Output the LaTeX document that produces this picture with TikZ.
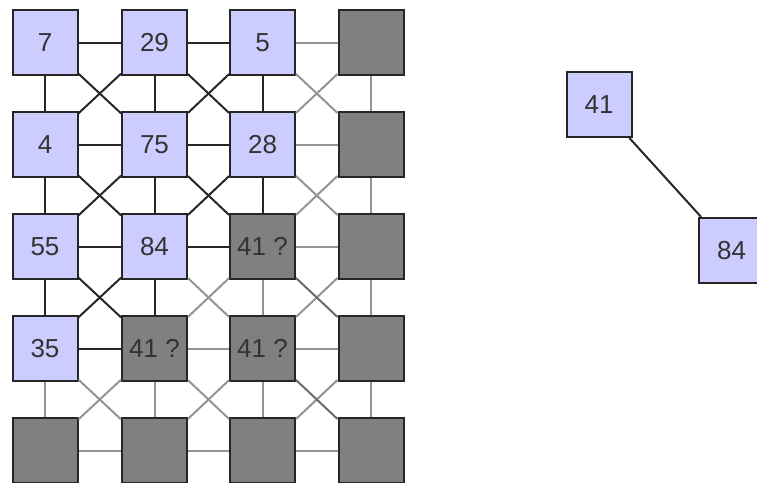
\documentclass[tikz,border=0pt]{standalone}
\usepackage{fontspec}
\setmainfont{Liberation Sans}
\usepackage{tikz}
\usetikzlibrary{positioning}
\definecolor{lavender}{HTML}{CCCCFF}
\definecolor{unknowngray}{HTML}{808080}
\tikzset{
  cell/.style={draw=black!85,line width=2pt,minimum size=65pt,inner sep=0pt,
    text=black!80,font=\fontsize{26}{30}\selectfont},
  known/.style={cell,fill=lavender},
  unknown/.style={cell,fill=unknowngray},
  link/.style={draw=black!85,line width=2pt},
  faint/.style={draw=black!42,line width=2pt},
  midlink/.style={draw=black!58,line width=2pt},
}
\begin{document}
\begin{tikzpicture}[x=1pt,y=-1pt]
  \useasboundingbox (0,0) rectangle (757,482);
  % grid of cells
  \node[known]   (n11) at (45,42.5)    {7};
  \node[known]   (n12) at (154.5,42.5) {29};
  \node[known]   (n13) at (262.5,42.5) {5};
  \node[unknown] (n14) at (371,42.5)   {};
  \node[known]   (n21) at (45,144.5)    {4};
  \node[known]   (n22) at (154.5,144.5) {75};
  \node[known]   (n23) at (262.5,144.5) {28};
  \node[unknown] (n24) at (371,144.5)   {};
  \node[known]   (n31) at (45,246.5)    {55};
  \node[known]   (n32) at (154.5,246.5) {84};
  \node[unknown] (n33) at (262.5,246.5) {41 ?};
  \node[unknown] (n34) at (371,246.5)   {};
  \node[known]   (n41) at (45,348.5)    {35};
  \node[unknown] (n42) at (154.5,348.5) {41 ?};
  \node[unknown] (n43) at (262.5,348.5) {41 ?};
  \node[unknown] (n44) at (371,348.5)   {};
  \node[unknown] (n51) at (45,450.5)    {};
  \node[unknown] (n52) at (154.5,450.5) {};
  \node[unknown] (n53) at (262.5,450.5) {};
  \node[unknown] (n54) at (371,450.5)   {};
  % the pair on the right
  \node[known] (m41) at (599,104.5)   {41};
  \node[known] (m84) at (731.5,250.5) {84};

  % edges between known cells
  \path[link]
    (n11) edge (n12) (n12) edge (n13)
    (n21) edge (n22) (n22) edge (n23)
    (n31) edge (n32) (n32) edge (n33)
    (n41) edge (n42)
    (n11) edge (n21) (n12) edge (n22) (n13) edge (n23)
    (n21) edge (n31) (n22) edge (n32) (n23) edge (n33)
    (n31) edge (n41) (n32) edge (n42)
    (n11) edge (n22) (n12) edge (n21)
    (n12) edge (n23) (n13) edge (n22)
    (n21) edge (n32) (n22) edge (n31)
    (n22) edge (n33) (n23) edge (n32)
    (n31) edge (n42) (n32) edge (n41)
    (m41) edge (m84);
  % edges touching unknown cells
  \path[faint]
    (n13) edge (n14) (n23) edge (n24) (n33) edge (n34)
    (n42) edge (n43) (n43) edge (n44)
    (n51) edge (n52) (n52) edge (n53) (n53) edge (n54)
    (n14) edge (n24) (n24) edge (n34) (n33) edge (n43) (n34) edge (n44)
    (n41) edge (n51) (n42) edge (n52) (n43) edge (n53) (n44) edge (n54)
    (n13) edge (n24) (n14) edge (n23)
    (n23) edge (n34) (n24) edge (n33)
    (n32) edge (n43) (n33) edge (n42)
    (n34) edge (n43)
    (n41) edge (n52) (n42) edge (n51)
    (n42) edge (n53) (n43) edge (n52)
    (n44) edge (n53);
  \path[midlink]
    (n33) edge (n44) (n43) edge (n54);
\end{tikzpicture}
\end{document}
